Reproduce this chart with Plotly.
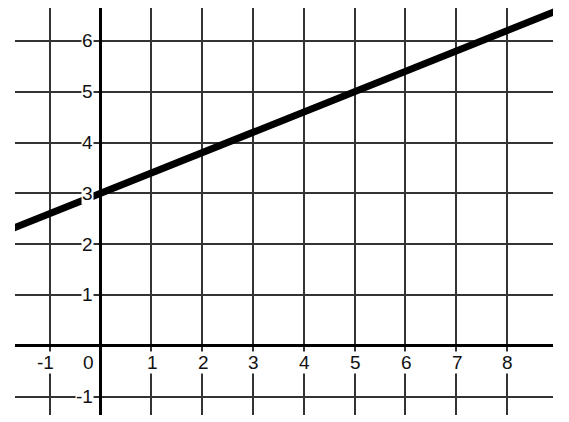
import plotly.graph_objects as go

# values
line_x = [-2, 0, 5, 9]
line_y = [2.2, 3, 5, 6.6]

x_ticks = [-1, 0, 1, 2, 3, 4, 5, 6, 7, 8]
x_labels = ['-1', '0', '1', '2', '3', '4', '5', '6', '7', '8']
y_ticks = [-1, 1, 2, 3, 4, 5, 6]
y_labels = ['-1', '1', '2', '3', '4', '5', '6']

fig = go.Figure()
fig.add_trace(go.Scatter(x=line_x, y=line_y, mode='lines',
                         line=dict(color='black', width=7),
                         hoverinfo='skip', showlegend=False))

label_font = dict(family='Liberation Sans, Arial, sans-serif', size=19, color='#111')

for xv, txt in zip(x_ticks, x_labels):
    shift = 0
    if xv == 0:
        shift = -13
    elif xv < 0:
        shift = -5
    fig.add_annotation(x=xv, y=0, text=txt, showarrow=False, xshift=shift + 1, yshift=-17,
                       bgcolor='white', borderpad=0, font=label_font)

for yv, txt in zip(y_ticks, y_labels):
    fig.add_annotation(x=0, y=yv, text=txt, showarrow=False, xanchor='right', xshift=-7,
                       bgcolor='white', borderpad=0, font=label_font)

axis_style = dict(showgrid=True, gridcolor='#333', gridwidth=1.6, dtick=1, tick0=0,
                  zeroline=True, zerolinecolor='black', zerolinewidth=3,
                  showticklabels=False, ticks='', showline=False, fixedrange=True)

fig.update_xaxes(range=[-1.683, 8.907], **axis_style)
fig.update_yaxes(range=[-1.364, 6.648], **axis_style)

# the page body adds an 8px offset, so the figure is a bit smaller than the window
fig.update_layout(width=561, height=414, margin=dict(l=7, r=16, t=0, b=7),
                  paper_bgcolor='white', plot_bgcolor='white')

fig.write_html("out.html")
